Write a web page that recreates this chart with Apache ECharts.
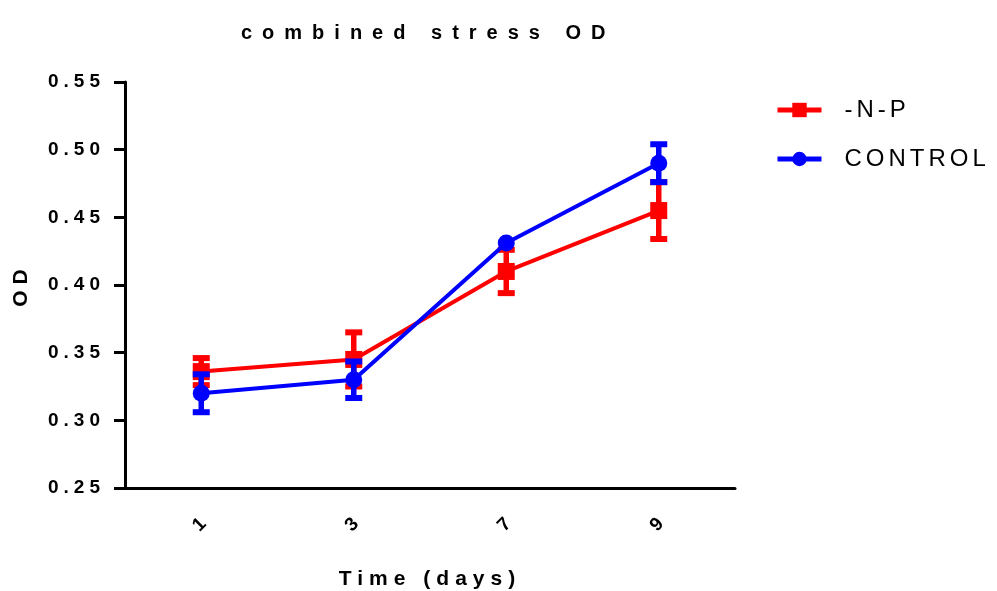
<!DOCTYPE html>
<html>
<head>
<meta charset="utf-8">
<style>html,body{margin:0;padding:0;background:#fff}#c{width:997px;height:591px}</style>
<script>
// Letter spacing by font size (the reference text is widely letter-spaced)
(function(){
  var SP = {19:5, 20:10, 21:6, 24:4};
  function sp(ctx){ var m = /(\d+)px/.exec(ctx.font || ''); var s = m ? SP[+m[1]] : 0; try { ctx.letterSpacing = (s || 0) + 'px'; } catch(e){} }
  var P = CanvasRenderingContext2D.prototype;
  var f = P.fillText, s = P.strokeText, mt = P.measureText;
  P.fillText = function(){ sp(this); return f.apply(this, arguments); };
  P.strokeText = function(){ sp(this); return s.apply(this, arguments); };
  P.measureText = function(){ sp(this); return mt.apply(this, arguments); };
})();
</script>
<script src="https://cdn.jsdelivr.net/npm/echarts@6/dist/echarts.min.js"></script>
</head>
<body>
<div id="c"></div>
<script>
const categories = ['1', '3', '7', '9'];
const npValues = [0.336, 0.345, 0.41, 0.455];
const npErrors = [0.010, 0.020, 0.016, 0.021];
const ctrlValues = [0.32, 0.33, 0.431, 0.49];
const ctrlErrors = [0.014, 0.0135, 0, 0.014];
const yTicks = { min: 0.25, max: 0.55, interval: 0.05 };

const FONT = "'Liberation Sans', Arial, sans-serif";
const RED = '#ff0000', BLUE = '#0000ff';

function errData(vals, errs) {
  return vals.map((v, i) => [i, v, errs[i]]);
}
function errRender(color) {
  return function (params, api) {
    const x = api.value(0), v = api.value(1), e = api.value(2);
    if (!e) return null;
    const top = api.coord([x, v + e]);
    const bot = api.coord([x, v - e]);
    const capW = 17, capH = 6;
    return {
      type: 'group',
      children: [
        { type: 'line', shape: { x1: top[0], y1: top[1], x2: bot[0], y2: bot[1] }, style: { stroke: color, lineWidth: 5.5 } },
        { type: 'rect', shape: { x: top[0] - capW / 2, y: top[1] - capH / 2, width: capW, height: capH }, style: { fill: color } },
        { type: 'rect', shape: { x: bot[0] - capW / 2, y: bot[1] - capH / 2, width: capW, height: capH }, style: { fill: color } }
      ]
    };
  };
}

const chart = echarts.init(document.getElementById('c'), null, { renderer: 'canvas' });
chart.setOption({
  animation: false,
  backgroundColor: '#fff',
  title: {
    text: 'combined stress OD',
    left: 236, top: 13,
    textStyle: { fontFamily: FONT, fontSize: 20, fontWeight: 'bold', color: '#000' }
  },
  legend: {
    orient: 'vertical',
    left: 770, top: 91,
    itemWidth: 44, itemHeight: 18, itemGap: 21,
    data: ['-N-P', 'CONTROL'],
    lineStyle: { width: 5 },
    textStyle: { fontFamily: FONT, fontSize: 24, color: '#000', padding: [0, 0, 0, 18] }
  },
  grid: { left: 125, right: 262, top: 82, bottom: 103, containLabel: false, outerBoundsMode: 'none' },
  xAxis: {
    type: 'category',
    data: categories,
    boundaryGap: true,
    name: 'Time (days)',
    nameLocation: 'middle',
    nameGap: 78,
    nameTextStyle: { fontFamily: FONT, fontSize: 21, fontWeight: 'bold', color: '#000' },
    axisLine: { lineStyle: { color: '#000', width: 3 } },
    axisTick: { alignWithLabel: true, length: 11, lineStyle: { color: '#000', width: 3 } },
    axisLabel: { rotate: 45, align: 'center', verticalAlign: 'middle', margin: 35, fontFamily: FONT, fontSize: 19, fontWeight: 'bold', color: '#000' },
    splitLine: { show: false }
  },
  yAxis: {
    type: 'value',
    min: yTicks.min, max: yTicks.max, interval: yTicks.interval,
    name: 'OD',
    nameLocation: 'middle',
    nameGap: 90,
    nameTextStyle: { fontFamily: FONT, fontSize: 21, fontWeight: 'bold', color: '#000' },
    axisLine: { show: true, lineStyle: { color: '#000', width: 3 } },
    axisTick: { show: true, length: 11, lineStyle: { color: '#000', width: 3 } },
    axisLabel: { margin: 20, fontFamily: FONT, fontSize: 19, fontWeight: 'bold', color: '#000', formatter: v => v.toFixed(2) },
    splitLine: { show: false }
  },
  series: [
    { name: '-N-P err', type: 'custom', data: errData(npValues, npErrors), renderItem: errRender(RED), encode: { x: 0, y: 1 }, z: 2 },
    { name: '-N-P', type: 'line', data: npValues, symbol: 'rect', symbolSize: 17, itemStyle: { color: RED }, lineStyle: { color: RED, width: 4 }, z: 3 },
    { name: 'CONTROL err', type: 'custom', data: errData(ctrlValues, ctrlErrors), renderItem: errRender(BLUE), encode: { x: 0, y: 1 }, z: 4 },
    { name: 'CONTROL', type: 'line', data: ctrlValues, symbol: 'circle', symbolSize: 17, itemStyle: { color: BLUE }, lineStyle: { color: BLUE, width: 4 }, z: 5 }
  ]
});
</script>
</body>
</html>
